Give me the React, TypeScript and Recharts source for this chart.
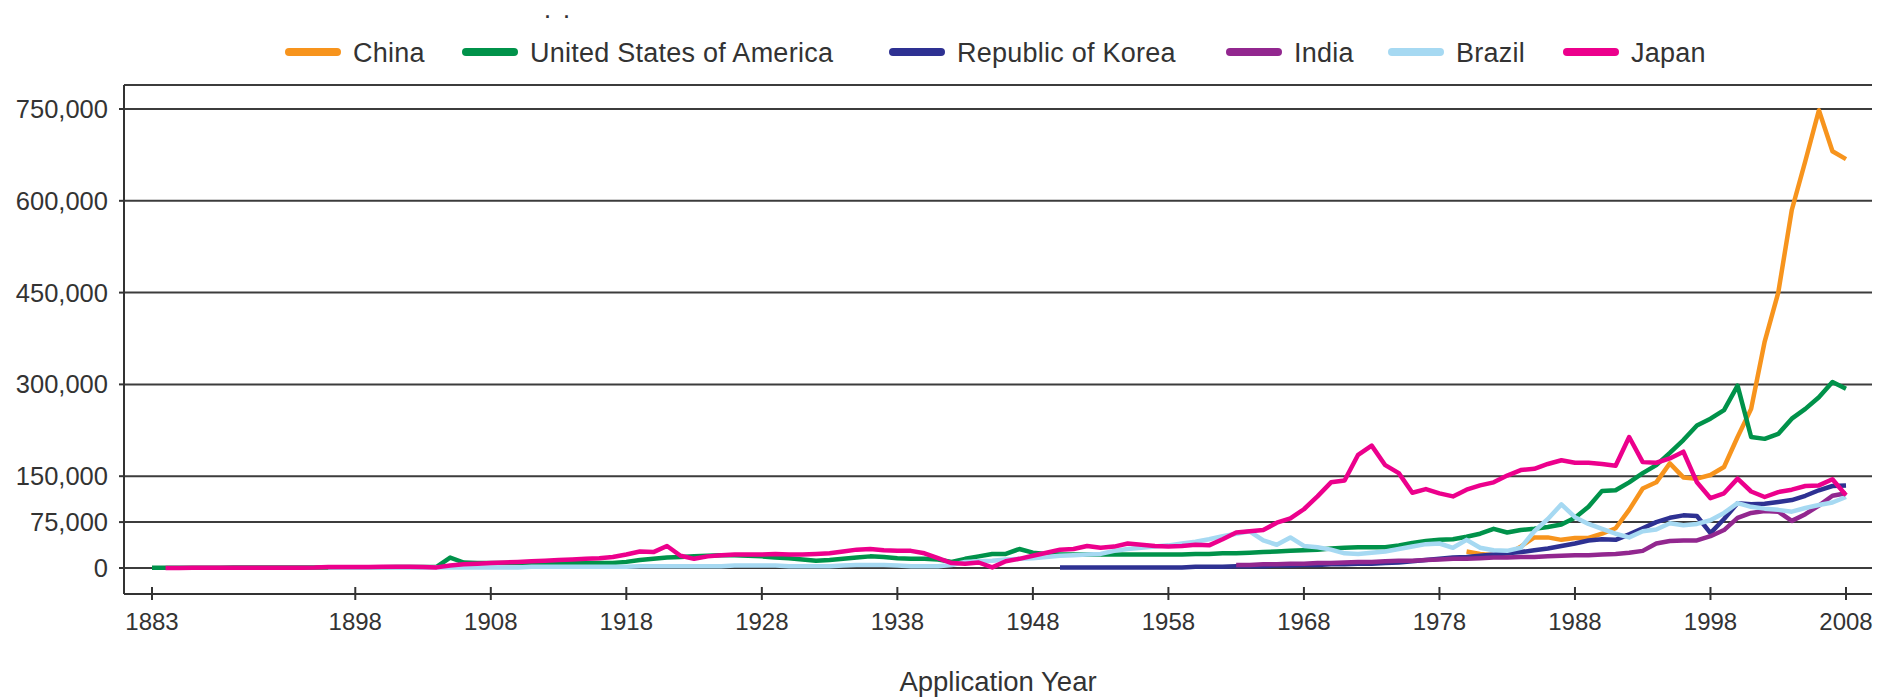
import React from 'react';
import { LineChart, Line, XAxis, YAxis, CartesianGrid } from 'recharts';

// values in thousands of applications, one entry per year from the given start year
const chinaStart = 1980;
const china = [
  27, 23, 21, 22, 35, 50, 50, 46, 49, 49,
  56, 65, 95, 130, 140, 171, 148, 146, 152, 165,
  214, 260, 370, 450, 585, 665, 748, 681, 668,
];

const usaStart = 1883;
const usa = [
  0.5, 0.5, 0.5, 0.6, 0.6, 0.6, 0.7,
  0.7, 0.8, 0.8, 0.9, 0.9, 1, 1, 1.1, 1.2, 1.3,
  1.4, 1.5, 1.6, 1.8, 2, 17, 9, 8, 8, 8,
  8, 8, 8, 8, 8, 8, 8, 8, 10, 13,
  15, 17, 18, 19, 20, 21, 21, 20, 19, 17,
  16, 14, 12, 13, 15, 17, 19, 18, 16, 15,
  15, 14, 10, 15, 19, 23, 23, 31, 25, 23,
  22, 22, 22, 22, 22, 22, 22, 22, 22, 22,
  23, 23, 24, 24, 25, 26, 27, 28, 29, 30,
  32, 33, 34, 34, 34, 37, 41, 44, 46, 47,
  51, 56, 64, 58, 62, 64, 67, 71, 82, 100,
  126, 127, 140, 155, 168, 188, 209, 233, 244, 258,
  298, 214, 211, 219, 244, 260, 279, 304, 293,
];

const koreaStart = 1950;
const korea = [
  1, 1, 1, 1, 1, 1, 1, 1, 1, 1,
  2, 2, 2, 3, 3, 3, 4, 4, 5, 5,
  6, 6, 7, 7, 8, 9, 11, 13, 15, 17,
  18, 20, 22, 24, 26, 29, 32, 36, 40, 45,
  47, 46, 55, 65, 75, 82, 86, 85, 57, 80,
  106, 104, 105, 108, 111, 118, 127, 134, 135,
];

const indiaStart = 1963;
const india = [
  5, 5, 6, 6, 7, 7, 8,
  8, 9, 10, 10, 11, 12, 12, 13, 14, 15,
  15, 16, 17, 17, 18, 18, 19, 20, 21, 21,
  22, 23, 25, 28, 40, 44, 45, 45, 52, 62,
  82, 90, 93, 92, 77, 88, 102, 118, 122,
];

const brazilStart = 1896;
const brazil = [
  1, 1, 1, 1,
  1, 1, 1, 1, 1, 1, 1, 1, 1, 1,
  1, 2, 2, 2, 2, 2, 2, 2, 2, 3,
  3, 3, 3, 3, 3, 3, 4, 4, 4, 4,
  3, 3, 3, 3, 4, 5, 5, 5, 4, 3,
  3, 3, 5, 10, 11, 12, 14, 15, 16, 18,
  20, 21, 22, 23, 28, 31, 33, 35, 37, 40,
  43, 47, 52, 56, 60, 45, 38, 50, 36, 34,
  30, 24, 23, 25, 27, 31, 35, 39, 40, 33,
  46, 33, 29, 28, 33, 60, 80, 104, 83, 72,
  64, 56, 50, 60, 63, 73, 70, 72, 78, 90,
  106, 100, 97, 95, 92, 98, 103, 107, 116,
];

const japanStart = 1884;
const japan = [
  0.2, 0.2, 0.3, 0.3, 0.3, 0.4,
  0.4, 0.5, 0.5, 0.6, 0.6, 0.7, 1.5, 1.6, 1.7, 1.8,
  1.9, 2, 2, 1.5, 1, 4, 6, 7, 8, 9,
  10, 11, 12, 13, 14, 15, 16, 18, 22, 27,
  26, 36, 20, 15, 19, 21, 22, 22, 22, 23,
  22, 22, 23, 24, 27, 30, 31, 29, 28, 28,
  24, 16, 8, 7, 9, 1, 11, 15, 20, 25,
  30, 31, 36, 33, 35, 40, 38, 36, 35, 36,
  38, 37, 47, 58, 60, 62, 74, 81, 96, 117,
  140, 143, 185, 200, 168, 155, 123, 129, 122, 117,
  128, 135, 140, 151, 160, 162, 170, 176, 172, 172,
  170, 167, 214, 173, 172, 179, 190, 140, 114, 122,
  146, 125, 116, 124, 128, 134, 135, 145, 119,
];

const xTicks = [1883, 1898, 1908, 1918, 1928, 1938, 1948, 1958, 1968, 1978, 1988, 1998, 2008];
const yTicks = [0, 75, 150, 300, 450, 600, 750];

const series = [
  { name: 'China', color: '#F7941D', start: chinaStart, values: china },
  { name: 'United States of America', color: '#00924A', start: usaStart, values: usa },
  { name: 'Republic of Korea', color: '#2E3192', start: koreaStart, values: korea },
  { name: 'India', color: '#92278F', start: indiaStart, values: india },
  { name: 'Brazil', color: '#A6D9F2', start: brazilStart, values: brazil },
  { name: 'Japan', color: '#EC008C', start: japanStart, values: japan },
];

const years = Array.from({ length: 2008 - 1883 + 1 }, (_, i) => 1883 + i);
const rows = years.map((year) => {
  const row: Record<string, number | null> = { year };
  series.forEach((s) => {
    const i = year - s.start;
    row[s.name] = i >= 0 && i < s.values.length ? s.values[i] : null;
  });
  return row;
});

const FONT = '"Liberation Sans", Arial, Helvetica, sans-serif';
const INK = '#333333';
const AXIS_Y = 594;
// left edge of each legend entry (px)
const legendLeft = [285, 462, 889, 1226, 1388, 1563];

const XTick = (props: any) => {
  const { x, y, payload } = props;
  return (
    <g>
      <line x1={x} x2={x} y1={AXIS_Y - 7} y2={AXIS_Y + 6} stroke={INK} strokeWidth={2} />
      <text x={x} y={y} dy={17} textAnchor="middle" fontSize={24} fill={INK} fontFamily={FONT}>
        {payload.value}
      </text>
    </g>
  );
};

const App: React.FC = () => {
  return (
    <div style={{ position: 'fixed', left: 0, top: 0, width: 1884, height: 698, background: '#fff', fontFamily: FONT }}>
      {/* remnant of the cropped title */}
      <div style={{ position: 'absolute', left: 545, top: 2, fontSize: 18, letterSpacing: 14, color: INK, fontWeight: 700 }}>..</div>

      {/* Legend */}
      {series.map((s, i) => (
        <div
          key={s.name}
          style={{ position: 'absolute', left: legendLeft[i], top: 40, height: 27, display: 'flex', alignItems: 'center' }}
        >
          <div style={{ width: 56, height: 8, borderRadius: 4, background: s.color, marginRight: 12, marginTop: -3 }} />
          <span style={{ fontSize: 27, lineHeight: '27px', letterSpacing: 0.25, color: INK, whiteSpace: 'nowrap' }}>{s.name}</span>
        </div>
      ))}

      <LineChart width={1884} height={698} data={rows} margin={{ top: 85, right: 12, bottom: 14, left: 8 }}>
        <CartesianGrid vertical={false} stroke="#3c3c3c" strokeWidth={2} />
        <XAxis
          dataKey="year"
          type="number"
          domain={[1883, 2008]}
          ticks={xTicks}
          padding={{ left: 28, right: 26 }}
          height={90}
          tickSize={6}
          tickMargin={13}
          tickLine={false}
          tick={<XTick />}
          axisLine={{ stroke: INK, strokeWidth: 2 }}
          label={{ value: 'Application Year', position: 'insideBottom', offset: -7, fontSize: 27.5, fill: INK, fontFamily: FONT }}
        />
        <YAxis
          type="number"
          domain={[0, 750]}
          ticks={yTicks}
          padding={{ top: 24, bottom: 26 }}
          width={116}
          tickSize={5}
          tickMargin={11}
          tickLine={{ stroke: INK, strokeWidth: 2 }}
          axisLine={{ stroke: INK, strokeWidth: 2 }}
          tick={{ fontSize: 25.5, fill: INK, fontFamily: FONT }}
          tickFormatter={(v: number) => (v * 1000).toLocaleString('en-US')}
        />
        {series.map((s) => (
          <Line
            key={s.name}
            type="linear"
            dataKey={s.name}
            stroke={s.color}
            strokeWidth={4.5}
            dot={false}
            activeDot={false}
            isAnimationActive={false}
            strokeLinejoin="round"
          />
        ))}
      </LineChart>
    </div>
  );
};

export default App;
